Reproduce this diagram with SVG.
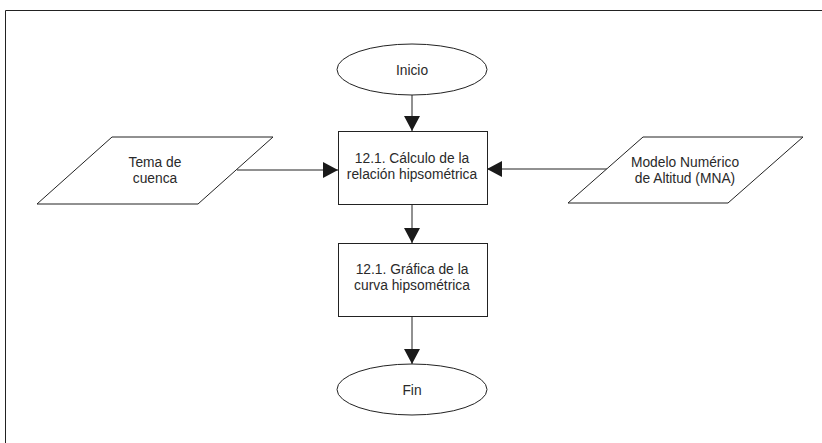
<svg xmlns="http://www.w3.org/2000/svg" width="822" height="443" viewBox="0 0 822 443">
  <style>
    .shape { fill: #ffffff; stroke: #222222; stroke-width: 1; }
    .edge { fill: none; stroke: #222222; stroke-width: 1; }
    .label { font-family: "Liberation Sans", Arial, sans-serif; font-size: 13.8px; fill: #2a2a2a; text-anchor: middle; }
  </style>
  <defs>
    <marker id="arrow" markerUnits="userSpaceOnUse" markerWidth="16" markerHeight="16" refX="15" refY="8" orient="auto">
      <path d="M0,0 L15,8 L0,16 Z" fill="#1a1a1a"/>
    </marker>
  </defs>
  <rect width="822" height="443" fill="#ffffff"/>
  <!-- page frame -->
  <path d="M5.5,443 V10.5 H822" class="edge"/>

  <g id="connectors">
    <line x1="412" y1="95" x2="412" y2="131" class="edge" marker-end="url(#arrow)"/>
    <line x1="412" y1="204" x2="412" y2="243" class="edge" marker-end="url(#arrow)"/>
    <line x1="412" y1="316" x2="412" y2="364" class="edge" marker-end="url(#arrow)"/>
    <line x1="237" y1="170" x2="338" y2="170" class="edge" marker-end="url(#arrow)"/>
    <line x1="607" y1="169" x2="487" y2="169" class="edge" marker-end="url(#arrow)"/>
  </g>

  <g id="inicio">
    <ellipse cx="412" cy="69.5" rx="75" ry="25.5" class="shape"/>
    <text x="412" y="74.5" class="label">Inicio</text>
  </g>

  <g id="calculo">
    <rect x="338.5" y="131.5" width="149" height="73" class="shape"/>
    <text x="412" y="163" class="label">12.1. Cálculo de la</text>
    <text x="412" y="179" class="label">relación hipsométrica</text>
  </g>

  <g id="grafica">
    <rect x="338.5" y="243.5" width="149" height="73" class="shape"/>
    <text x="412" y="274" class="label">12.1. Gráfica de la</text>
    <text x="412" y="290" class="label">curva hipsométrica</text>
  </g>

  <g id="fin">
    <ellipse cx="412" cy="389.5" rx="75" ry="25.5" class="shape"/>
    <text x="412" y="394.5" class="label">Fin</text>
  </g>

  <g id="tema-cuenca">
    <polygon points="112,137 273,137 198,204 37,204" class="shape"/>
    <text x="155" y="167" class="label">Tema de</text>
    <text x="155" y="183" class="label">cuenca</text>
  </g>

  <g id="mna">
    <polygon points="643,137 803,137 728,203 568,203" class="shape"/>
    <text x="685" y="167" class="label">Modelo Numérico</text>
    <text x="685" y="183" class="label">de Altitud (MNA)</text>
  </g>
</svg>
